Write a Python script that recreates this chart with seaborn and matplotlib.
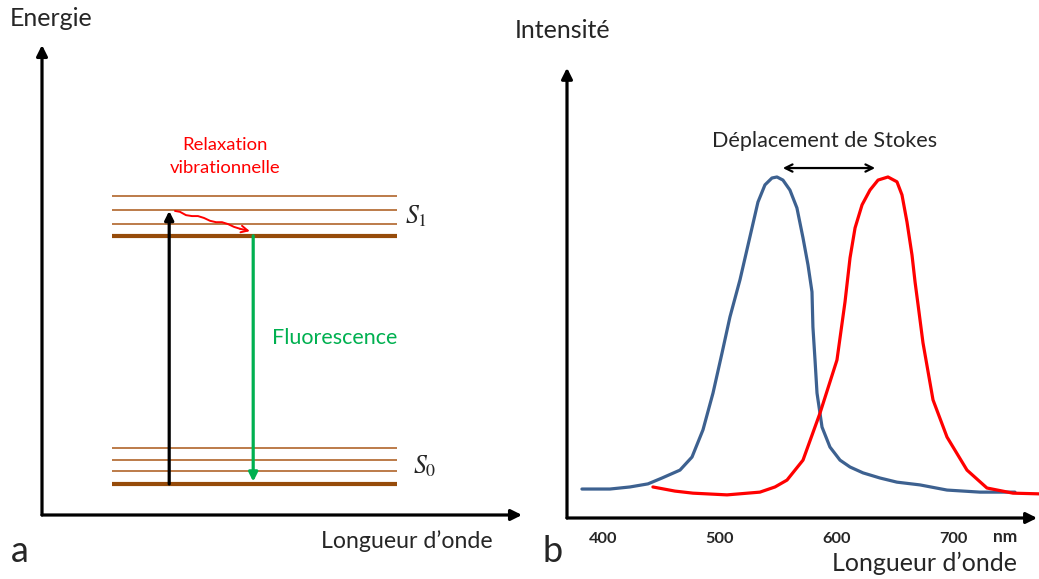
import numpy as np
import pandas as pd
import matplotlib
matplotlib.use('Agg')
import matplotlib.pyplot as plt
import seaborn as sns

# --- data -------------------------------------------------------------
# panel b : absorption (blue) and emission (red) spectra
abs_wl = [382.0, 406.0, 423.1, 438.6, 450.6, 466.0, 476.3, 485.7, 494.3, 502.0, 508.8,
          517.4, 527.7, 532.8, 538.8, 544.8, 549.1, 554.2, 560.2, 566.2, 571.4, 575.7,
          579.1, 579.9, 581.7, 583.4, 587.7, 594.5, 603.1, 611.7, 622.8, 637.4, 651.9,
          671.6, 694.8, 723.0, 753.0]
abs_int = [0.090, 0.090, 0.096, 0.105, 0.122, 0.145, 0.183, 0.262, 0.369, 0.485, 0.590,
           0.698, 0.849, 0.924, 0.974, 0.994, 0.997, 0.988, 0.959, 0.907, 0.820, 0.741,
           0.663, 0.561, 0.465, 0.369, 0.270, 0.212, 0.174, 0.154, 0.137, 0.122, 0.110,
           0.102, 0.087, 0.081, 0.081]
em_wl = [442.8, 461.7, 477.1, 506.3, 534.5, 547.4, 557.7, 571.4, 586.0, 600.5, 607.4,
         611.7, 616.0, 622.0, 628.8, 635.7, 644.2, 651.9, 656.2, 660.5, 664.8, 667.4,
         670.0, 674.2, 682.8, 694.8, 711.9, 729.0, 751.3, 773.6]
em_int = [0.096, 0.084, 0.078, 0.073, 0.081, 0.096, 0.116, 0.174, 0.311, 0.465, 0.634,
          0.762, 0.849, 0.916, 0.959, 0.988, 0.997, 0.983, 0.945, 0.866, 0.770, 0.692,
          0.625, 0.515, 0.349, 0.241, 0.145, 0.093, 0.078, 0.076]
wl_ticks = [400, 500, 600, 700]
abs_peak = 549.1
em_peak = 644.2

# panel a : Jablonski levels (arbitrary energy units)
s0_levels = [0.66, 0.94, 1.17, 1.43]
s1_levels = [5.94, 6.20, 6.48, 6.79]
level_x = [1.46, 7.40]
absorption_x = 2.65
emission_x = 4.40
relax_x = [2.77, 2.875, 3.0, 3.125, 3.25, 3.375, 3.5, 3.625, 3.75, 3.875, 4.0, 4.125, 4.33]
relax_e = [6.47, 6.45, 6.38, 6.36, 6.36, 6.32, 6.26, 6.23, 6.23, 6.19, 6.13, 6.09, 6.04]

sns.set_style('white')
plt.rcParams['font.family'] = ['Lato', 'DejaVu Sans']
plt.rcParams['mathtext.fontset'] = 'stix'

W, H = 1039, 579
fig = plt.figure(figsize=(W / 100, H / 100), dpi=100)

def fx(px):
    return px / W

def fy(py):
    return 1 - py / H

LW = 2.3
brown_thick = '#964B0A'
brown_thin = '#B0652A'
green = '#00B050'
red = '#FF0000'
blue = '#3D6190'

# ---------------- panel a ----------------
ax_a = fig.add_axes([fx(42), fy(515), (522 - 42) / W, (515 - 45) / H])
ax_a.set_xlim(0, 10)
ax_a.set_ylim(0, 10)
ax_a.axis('off')
arrow_kw = dict(arrowstyle='-|>', lw=LW, color='black', mutation_scale=16,
                shrinkA=0, shrinkB=0)
ax_a.annotate('', xy=(0, 1), xytext=(0, 0), xycoords='axes fraction', arrowprops=arrow_kw)
ax_a.annotate('', xy=(1, 0), xytext=(0, 0), xycoords='axes fraction', arrowprops=arrow_kw)

for levels in (s0_levels, s1_levels):
    for i, e in enumerate(levels):
        if i == 0:
            ax_a.plot(level_x, [e, e], color=brown_thick, lw=3.0, solid_capstyle='butt')
        else:
            ax_a.plot(level_x, [e, e], color=brown_thin, lw=1.2, solid_capstyle='butt')

# absorption
ax_a.annotate('', xy=(absorption_x, relax_e[0]), xytext=(absorption_x, s0_levels[0]),
              arrowprops=dict(arrowstyle='-|>', lw=LW, color='black', mutation_scale=13,
                              shrinkA=0, shrinkB=0))
# fluorescence
ax_a.annotate('', xy=(emission_x, s0_levels[0] + 0.05), xytext=(emission_x, s1_levels[0]),
              arrowprops=dict(arrowstyle='-|>', lw=LW, color=green, mutation_scale=13,
                              shrinkA=0, shrinkB=0))
# vibrational relaxation
ax_a.plot(relax_x[:-1], relax_e[:-1], color=red, lw=1.4)
ax_a.annotate('', xy=(relax_x[-1], relax_e[-1]), xytext=(relax_x[-2], relax_e[-2]),
              arrowprops=dict(arrowstyle='->', lw=1.4, color=red, mutation_scale=12,
                              shrinkA=0, shrinkB=0))

ax_a.text(3.81, 7.87, 'Relaxation', color=red, fontsize=13.3, ha='center', va='center')
ax_a.text(3.81, 7.38, 'vibrationnelle', color=red, fontsize=13.3, ha='center', va='center')
ax_a.text(4.79, 3.77, 'Fluorescence', color=green, fontsize=15.5, ha='left', va='center')
ax_a.text(7.56, 6.36, '$S_1$', fontsize=18.5, ha='left', va='center')
ax_a.text(7.73, 1.04, '$S_0$', fontsize=18.5, ha='left', va='center')

fig.text(fx(51), fy(18), 'Energie', fontsize=18, ha='center', va='center')
fig.text(fx(407), fy(541), 'Longueur d\u2019onde', fontsize=16.7, ha='center', va='center')
fig.text(fx(20), fy(552), 'a', fontsize=26, ha='center', va='center')

# ---------------- panel b ----------------
ax_b = fig.add_axes([fx(567), fy(518), (1039 - 567) / W, (518 - 60) / H])
spectra = pd.concat([
    pd.DataFrame({'wl': abs_wl, 'I': abs_int, 'spectre': 'absorption'}),
    pd.DataFrame({'wl': em_wl, 'I': em_int, 'spectre': 'emission'}),
])
sns.lineplot(data=spectra, x='wl', y='I', hue='spectre',
             palette={'absorption': blue, 'emission': red},
             lw=2.3, legend=False, ax=ax_b)
for ln in ax_b.lines:
    ln.set_solid_joinstyle('round')
ax_b.set_xlim(369.2, 773.6)
ax_b.set_ylim(0.0058, 1.337)
for s in ax_b.spines.values():
    s.set_visible(False)
ax_b.set_xlabel('')
ax_b.set_ylabel('')
ax_b.set_yticks([])
ax_b.set_xticks(wl_ticks)
ax_b.set_xticklabels([str(t) for t in wl_ticks], fontweight='bold', fontsize=11.8)
ax_b.tick_params(axis='x', length=0, pad=10)
ax_b.annotate('', xy=(0, 0.983), xytext=(0, 0), xycoords='axes fraction', arrowprops=arrow_kw)
ax_b.annotate('', xy=(0.996, 0), xytext=(0, 0), xycoords='axes fraction', arrowprops=arrow_kw)

# Stokes shift
ax_b.annotate('', xy=(abs_peak + 5, 1.023), xytext=(em_peak - 11, 1.023),
              arrowprops=dict(arrowstyle='<->', lw=1.6, color='black', mutation_scale=13,
                              shrinkA=0, shrinkB=0))
fig.text(fx(825), fy(141), 'D\u00e9placement de Stokes', fontsize=15.6, ha='center', va='center')
fig.text(fx(1005), fy(537), 'nm', fontsize=12.5, fontweight='bold', ha='center', va='center')
fig.text(fx(563), fy(30), 'Intensit\u00e9', fontsize=18, ha='center', va='center')
fig.text(fx(925), fy(563), 'Longueur d\u2019onde', fontsize=18, ha='center', va='center')
fig.text(fx(553), fy(552), 'b', fontsize=26, ha='center', va='center')

fig.savefig('out.png', dpi=100)
